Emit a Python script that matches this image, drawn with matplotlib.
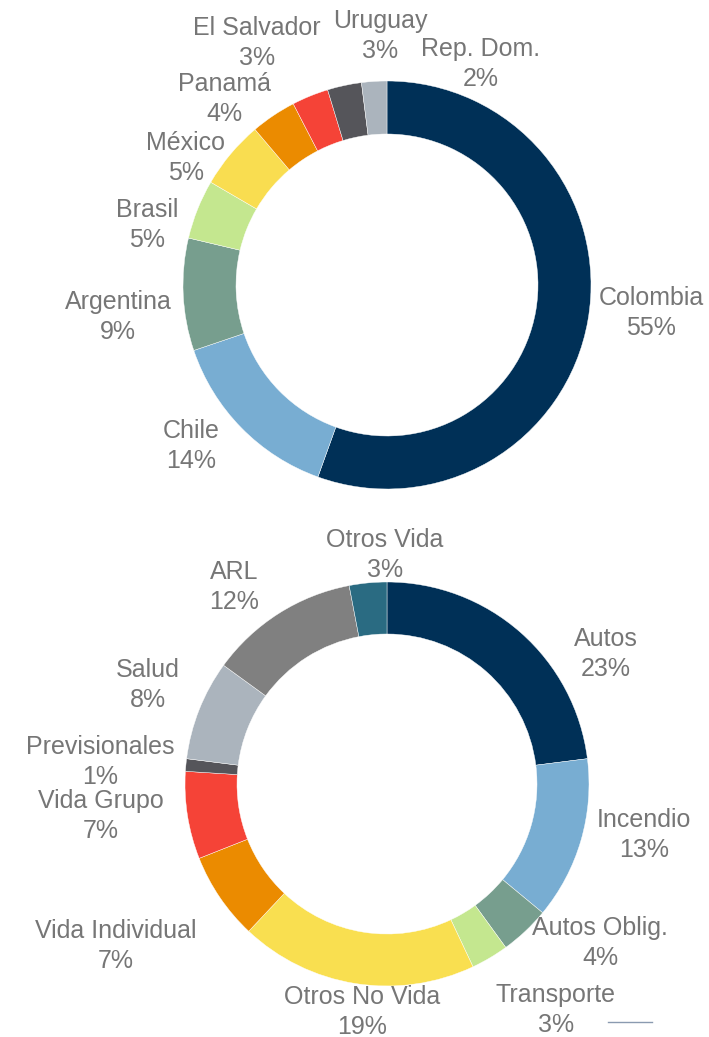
import matplotlib
matplotlib.use("Agg")
import matplotlib.pyplot as plt

# ---- data ----
paises = ["Colombia", "Chile", "Argentina", "Brasil", "México", "Panamá",
          "El Salvador", "Uruguay", "Rep. Dom."]
paises_vals = [55.5, 14.3, 8.9, 4.7, 5.4, 3.6, 2.9, 2.7, 2.0]
paises_lbl = ["55%", "14%", "9%", "5%", "5%", "4%", "3%", "3%", "2%"]

ramos = ["Autos", "Incendio", "Autos Oblig.", "Transporte", "Otros No Vida",
         "Vida Individual", "Vida Grupo", "Previsionales", "Salud", "ARL", "Otros Vida"]
ramos_vals = [23, 13, 4, 3, 19, 7, 7, 1, 8, 12, 3]
ramos_lbl = ["23%", "13%", "4%", "3%", "19%", "7%", "7%", "1%", "8%", "12%", "3%"]

# ---- styles ----
paises_colors = ["#003057", "#78ADD2", "#779E8E", "#C4E78F", "#F9DD50",
                 "#EB8B00", "#F54337", "#55555A", "#ABB4BD"]
ramos_colors = ["#003057", "#78ADD2", "#779E8E", "#C4E78F", "#F9DF50",
                "#EB8B00", "#F54337", "#55555A", "#ABB4BD", "#808080", "#2A6B82"]

W, H = 709, 1037
TXT = "#767676"
plt.rcParams['font.family'] = ['Liberation Sans', 'DejaVu Sans']

fig = plt.figure(figsize=(W / 100, H / 100), dpi=100)
ax = fig.add_axes([0, 0, 1, 1])

def donut(vals, colors, cx, cy, r, w):
    ax.pie(vals, colors=colors, startangle=90, counterclock=False,
           center=(cx, H - cy), radius=r, frame=True,
           wedgeprops=dict(width=w, edgecolor="white", linewidth=0.3))

donut(paises_vals, paises_colors, 387, 285, 204, 53)
donut(ramos_vals, ramos_colors, 387, 784, 202, 52)
ax.set_xlim(0, W)
ax.set_ylim(0, H)
ax.axis("off")

paises_pos = [(651, 313), (191, 446), (118, 317), (147, 225), (186, 158),
              (224, 99), (257, 43), (380, 36), (481, 64)]
ramos_pos = [(606, 654), (644, 835), (600, 943), (556, 1010), (362, 1012),
             (116, 946), (101, 816), (100, 762), (148, 685), (234, 587), (385, 555)]

for name, lbl, (x, y) in zip(paises, paises_lbl, paises_pos):
    ax.text(x, H - y, f"{name}\n{lbl}", ha="center", va="center",
            fontsize=18, color=TXT, linespacing=1.32)
for name, lbl, (x, y) in zip(ramos, ramos_lbl, ramos_pos):
    ax.text(x, H - y, f"{name}\n{lbl}", ha="center", va="center",
            fontsize=18, color=TXT, linespacing=1.32)

# small decorative line bottom right
ax.plot([608, 652], [H - 1022, H - 1022], color="#8A9AB0", linewidth=1)

fig.savefig("out.png", dpi=100)
